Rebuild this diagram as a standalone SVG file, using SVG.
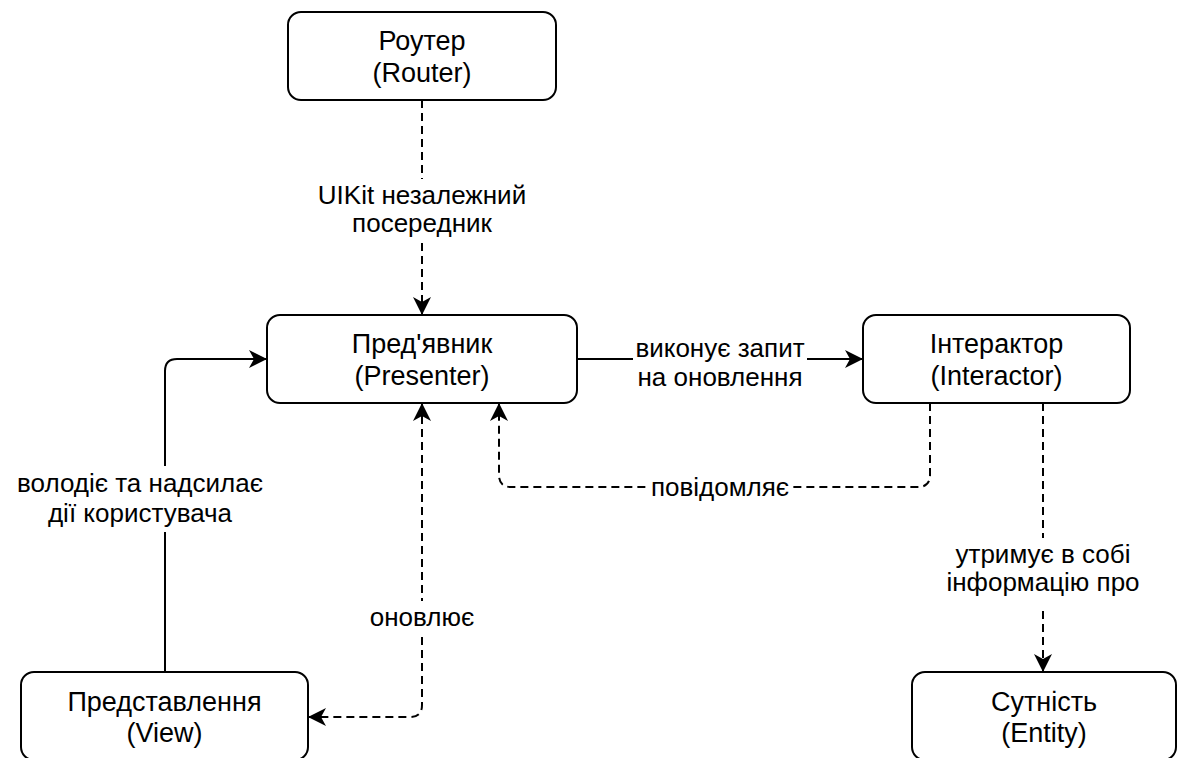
<svg xmlns="http://www.w3.org/2000/svg" width="1183" height="758" viewBox="0 0 1183 758">
<style>
.node rect{fill:#fff;stroke:#000;stroke-width:2}
.node text{font-family:"Liberation Sans",Arial,Helvetica,sans-serif;font-size:27px;fill:#000;text-anchor:middle}
.edge{fill:none;stroke:#000;stroke-width:2}
.dash{stroke-dasharray:8 5}
.lbl rect{fill:#fff;stroke:none}
.lbl text{font-family:"Liberation Sans",Arial,Helvetica,sans-serif;font-size:26px;fill:#000;text-anchor:middle}
</style>
<defs>
<marker id="arr" markerUnits="userSpaceOnUse" markerWidth="20" markerHeight="20" refX="18" refY="9" orient="auto-start-reverse" viewBox="0 0 20 20">
<path d="M0,0 L18,9 L0,18 L5,9 Z" fill="#000" stroke="none"/>
</marker>
</defs>
<rect width="1183" height="758" fill="#fff"/>
<g id="connectors">
<g id="e-router-presenter">
<path class="edge dash" d="M422,100 L422,315" marker-end="url(#arr)"/>
<g class="lbl"><rect x="306" y="179" width="232" height="60"/>
<text x="422" y="204">UIKit незалежний</text><text x="422" y="232">посередник</text></g>
</g>
<g id="e-presenter-interactor">
<path class="edge" d="M577,359 L863,359" marker-end="url(#arr)"/>
<g class="lbl"><rect x="633" y="334" width="174" height="60"/>
<text x="720" y="357">виконує запит</text><text x="720" y="386">на оновлення</text></g>
</g>
<g id="e-view-presenter">
<path class="edge" d="M165,672 L165,371 Q165,359 177,359 L267,359" marker-end="url(#arr)"/>
<g class="lbl"><rect x="8" y="466" width="264" height="66"/>
<text x="140" y="492">володіє та надсилає</text><text x="140" y="522">дії користувача</text></g>
</g>
<g id="e-presenter-view">
<path class="edge dash" d="M422,403 L422,705 Q422,717 410,717 L308,717" marker-start="url(#arr)" marker-end="url(#arr)"/>
<g class="lbl"><rect x="367" y="601" width="110" height="31"/>
<text x="422" y="626">оновлює</text></g>
</g>
<g id="e-interactor-presenter">
<path class="edge dash" d="M930,403 L930,475 Q930,487 918,487 L511,487 Q499,487 499,475 L499,403" marker-end="url(#arr)"/>
<g class="lbl"><rect x="648" y="474" width="144" height="28"/>
<text x="720" y="496">повідомляє</text></g>
</g>
<g id="e-interactor-entity">
<path class="edge dash" d="M1043,403 L1043,672" marker-end="url(#arr)"/>
<g class="lbl"><rect x="944" y="538" width="198" height="69"/>
<text x="1043" y="563">утримує в собі</text><text x="1043" y="591">інформацію про</text></g>
</g>
</g>
<g id="router" class="node"><rect x="288" y="12" width="268" height="88" rx="13"/><text x="422" y="50">Роутер</text><text x="422" y="82">(Router)</text></g>
<g id="presenter" class="node"><rect x="267" y="315" width="310" height="88" rx="13"/><text x="422" y="353">Пред'явник</text><text x="422" y="385">(Presenter)</text></g>
<g id="interactor" class="node"><rect x="863" y="315" width="267" height="88" rx="13"/><text x="996.5" y="353">Інтерактор</text><text x="996.5" y="385">(Interactor)</text></g>
<g id="view" class="node"><rect x="21" y="672" width="287" height="88" rx="13"/><text x="164.5" y="711">Представлення</text><text x="164.5" y="742">(View)</text></g>
<g id="entity" class="node"><rect x="912" y="672" width="264" height="88" rx="13"/><text x="1044" y="711">Сутність</text><text x="1044" y="742">(Entity)</text></g>
</svg>
